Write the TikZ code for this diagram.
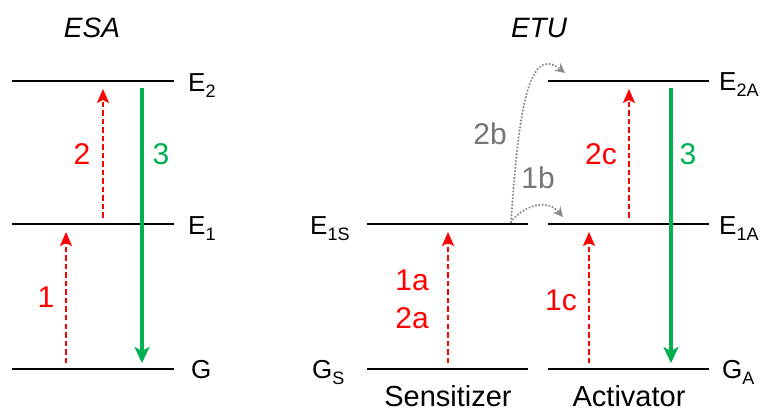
\documentclass[tikz,border=0pt]{standalone}
\usepackage{fontspec}
\setmainfont{Liberation Sans}
\usetikzlibrary{arrows.meta}
\definecolor{pumpred}{RGB}{255,0,0}
\definecolor{emitgreen}{RGB}{0,176,80}
\definecolor{hopgray}{RGB}{140,140,140}
\definecolor{hoptext}{RGB}{118,118,118}
\newcommand\lvsub[2]{#1\raisebox{-6pt}{\fontsize{18}{18}\selectfont #2}}
\begin{document}
\begin{tikzpicture}[x=1pt,y=-1pt,
 level/.style={line width=2.6pt},
 pump/.style={pumpred,line width=2pt,dash pattern=on 5.5pt off 3pt,shorten <=6pt,shorten >=8pt,-{Stealth[length=14pt,width=12pt,inset=3pt]}},
 emit/.style={emitgreen,line width=3.2pt,shorten <=7pt,shorten >=6pt,-{Stealth[length=16pt,width=15pt,inset=4pt]}},
 hop/.style={hopgray,line width=2.4pt,line cap=round,dash pattern=on 0pt off 3.4pt,-{Stealth[length=10pt,width=10pt,inset=3.5pt]}},
 lvlbl/.style={anchor=base west,inner sep=0pt,font=\fontsize{26}{26}\selectfont},
 arrlbl/.style={inner sep=0pt,align=center,font=\fontsize{30}{38}\selectfont},
 title/.style={anchor=base,inner sep=0pt,font=\itshape\fontsize{28}{28}\selectfont},
 caption/.style={anchor=base,inner sep=0pt,font=\fontsize{29}{29}\selectfont}]
\useasboundingbox (0,0) rectangle (765,411);
\foreach \n/\y in {G/369,E1/224,E2/81}{
 \coordinate (esa\n-l) at (12,\y);
 \coordinate (esa\n-r) at (174,\y);
 \draw[level] (esa\n-l)--(esa\n-r);
}
\foreach \n/\y in {G/369,E1/224}{
 \coordinate (sen\n-l) at (367,\y);
 \coordinate (sen\n-r) at (528,\y);
 \draw[level] (sen\n-l)--(sen\n-r);
}
\foreach \n/\y in {G/369,E1/224,E2/81}{
 \coordinate (act\n-l) at (548,\y);
 \coordinate (act\n-r) at (709,\y);
 \draw[level] (act\n-l)--(act\n-r);
}
\node[title] (esa) at (92,38) {ESA};
\node[title] (etu) at (539,38) {ETU};
\node[lvlbl] (esaE2) at (188,92) {\lvsub{E}{2}};
\node[lvlbl] (esaE1) at (188,235) {\lvsub{E}{1}};
\node[lvlbl] (esaG) at (191,378) {G};
\node[lvlbl] (senE1) at (310,235) {\lvsub{E}{1S}};
\node[lvlbl] (senG) at (312,378) {\lvsub{G}{S}};
\node[lvlbl] (actE2) at (719,91) {\lvsub{E}{2A}};
\node[lvlbl] (actE1) at (719,235) {\lvsub{E}{1A}};
\node[lvlbl] (actG) at (722,378) {\lvsub{G}{A}};
\node[caption] (sens) at (448,406) {Sensitizer};
\node[caption] (acti) at (629,406) {Activator};
\coordinate (p1s) at (66,369);
\coordinate (p1e) at (66,224);
\coordinate (p2s) at (103,224);
\coordinate (p2e) at (103,81);
\coordinate (e3s) at (142,81);
\coordinate (e3e) at (142,369);
\draw[pump] (p1s)--(p1e);
\draw[pump] (p2s)--(p2e);
\draw[emit] (e3s)--(e3e);
\node[arrlbl,pumpred] (l1) at (46,297) {1};
\node[arrlbl,pumpred] (l2) at (82,154) {2};
\node[arrlbl,emitgreen] (l3) at (161,154) {3};
\coordinate (p1as) at (448,369);
\coordinate (p1ae) at (448,224);
\coordinate (p1cs) at (589,369);
\coordinate (p1ce) at (589,224);
\coordinate (p2cs) at (629,224);
\coordinate (p2ce) at (629,81);
\coordinate (e3As) at (671,81);
\coordinate (e3Ae) at (671,369);
\draw[pump] (p1as)--(p1ae);
\draw[pump] (p1cs)--(p1ce);
\draw[pump] (p2cs)--(p2ce);
\draw[emit] (e3As)--(e3Ae);
\node[arrlbl,pumpred] (l1a) at (412,299) {1a\\2a};
\node[arrlbl,pumpred] (l1c) at (561,300) {1c};
\node[arrlbl,pumpred] (l2c) at (601,154) {2c};
\node[arrlbl,emitgreen] (l3A) at (688,154) {3};
\coordinate (hop) at (511,222);
\coordinate (hop1b) at (563,217);
\coordinate (hop2b) at (565,73);
\draw[hop] (hop) .. controls (522,207) and (546,197) .. (hop1b);
\draw[hop] (hop) .. controls (518,120) and (527,42) .. (hop2b);
\node[arrlbl,hoptext] (l2b) at (490,134) {2b};
\node[arrlbl,hoptext] (l1b) at (538,178) {1b};
\end{tikzpicture}
\end{document}
